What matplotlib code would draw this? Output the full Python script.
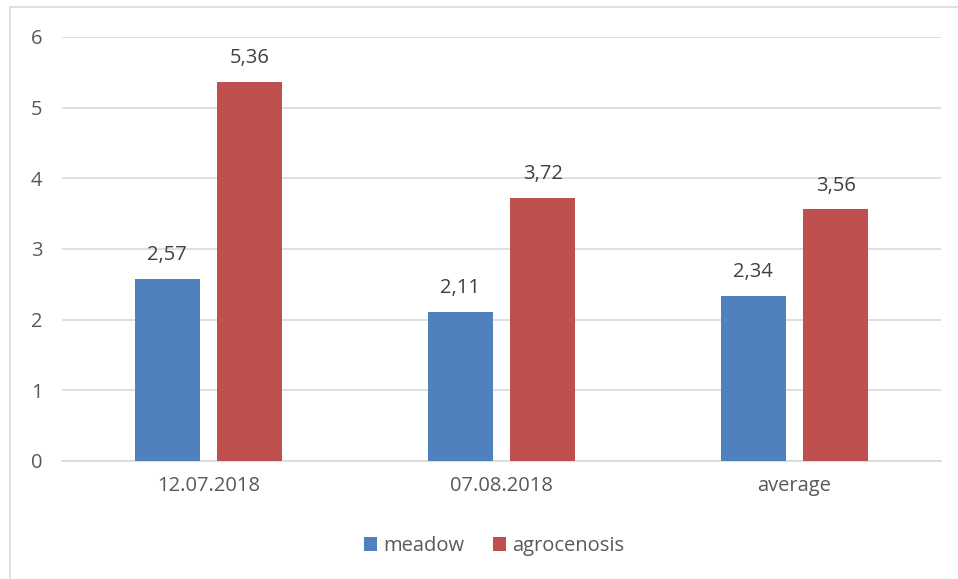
import matplotlib
matplotlib.use("Agg")
import matplotlib.pyplot as plt
import numpy as np
from matplotlib.patches import Rectangle

categories = ["12.07.2018", "07.08.2018", "average"]
meadow = [2.57, 2.11, 2.34]
agrocenosis = [5.36, 3.72, 3.56]
yticks = [0, 1, 2, 3, 4, 5, 6]

plt.rcParams['font.family'] = ['Open Sans', 'DejaVu Sans']
txt = '#595959'
fs = 14.5

fig = plt.figure(figsize=(9.58, 5.79), dpi=100)
ax = fig.add_axes([62/958, 1-461/579, (941-62)/958, (461-37)/579])

x = np.arange(len(categories))
w = 0.222
gap = 0.061
off = (w + gap) / 2
b1 = ax.bar(x - off, meadow, w, color='#4F81BD', label='meadow', zorder=3)
b2 = ax.bar(x + off, agrocenosis, w, color='#C0504D', label='agrocenosis', zorder=3)

for bars, vals in ((b1, meadow), (b2, agrocenosis)):
    for r, v in zip(bars, vals):
        ax.annotate(f"{v:.2f}".replace('.', ','), (r.get_x() + r.get_width()/2, v),
                    xytext=(0, 10), textcoords='offset points', ha='center', va='bottom',
                    fontsize=fs, color='#404040')

ax.set_xlim(-0.5, 2.5)
ax.set_ylim(0, 6)
ax.set_yticks(yticks)
ax.set_yticklabels([str(t) for t in yticks])
ax.set_xticks(x)
ax.set_xticklabels(categories)
ax.tick_params(axis='y', length=0, pad=14, labelsize=fs, labelcolor=txt)
ax.tick_params(axis='x', length=0, pad=11, labelsize=fs, labelcolor=txt)
ax.grid(axis='y', color='#D9D9D9', linewidth=1.2, zorder=0)
for s in ['top', 'right', 'left']:
    ax.spines[s].set_visible(False)
ax.spines['bottom'].set_color('#D9D9D9')
ax.spines['bottom'].set_linewidth(1.2)

leg = fig.legend(handles=[b1, b2], labels=['meadow', 'agrocenosis'], loc='center',
                 bbox_to_anchor=(494/958, 1-546/579), ncol=2, frameon=False,
                 fontsize=fs, handlelength=0.65, handleheight=0.65, handletextpad=0.3,
                 columnspacing=1.4)
for t in leg.get_texts():
    t.set_color(txt)

fig.patches.append(Rectangle((10/958, -0.05), 1.0, 1-7/579+0.05, transform=fig.transFigure,
                             fill=False, edgecolor='#D9D9D9', linewidth=1.2))

fig.savefig("out.png", dpi=100)
